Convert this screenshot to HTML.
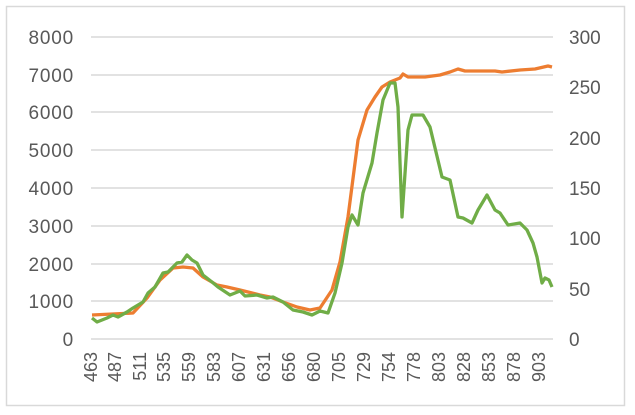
<!DOCTYPE html>
<html><head><style>
body{margin:0;background:#fff;}
svg{display:block;font-family:"Liberation Sans",sans-serif;}
</style></head><body>
<svg width="635" height="415" viewBox="0 0 635 415">
<rect x="6.5" y="6.5" width="618" height="399" fill="#fff" stroke="#d9d9d9" stroke-width="1.5"/>
<g stroke="#d9d9d9" stroke-width="1.5">
<line x1="91" x2="553" y1="37" y2="37"/><line x1="91" x2="553" y1="75" y2="75"/>
<line x1="91" x2="553" y1="112" y2="112"/><line x1="91" x2="553" y1="150" y2="150"/>
<line x1="91" x2="553" y1="188" y2="188"/><line x1="91" x2="553" y1="226" y2="226"/>
<line x1="91" x2="553" y1="264" y2="264"/><line x1="91" x2="553" y1="301" y2="301"/>
<line x1="91" x2="553" y1="339" y2="339"/>
</g>
<g fill="#595959" font-size="19" text-anchor="end" letter-spacing="0.8">
<text x="74" y="44">8000</text><text x="74" y="82">7000</text><text x="74" y="119">6000</text>
<text x="74" y="157">5000</text><text x="74" y="195">4000</text><text x="74" y="233">3000</text>
<text x="74" y="271">2000</text><text x="74" y="308">1000</text><text x="74" y="346">0</text>
</g>
<g fill="#595959" font-size="19" text-anchor="start">
<text x="569" y="44">300</text><text x="569" y="94">250</text><text x="569" y="145">200</text>
<text x="569" y="195">150</text><text x="569" y="245">100</text><text x="569" y="296">50</text>
<text x="569" y="346">0</text>
</g>
<g fill="#595959" font-size="18" text-anchor="end">
<text transform="translate(97,352) rotate(-90)">463</text>
<text transform="translate(121,352) rotate(-90)">487</text>
<text transform="translate(146,352) rotate(-90)">511</text>
<text transform="translate(170,352) rotate(-90)">535</text>
<text transform="translate(195,352) rotate(-90)">559</text>
<text transform="translate(220,352) rotate(-90)">583</text>
<text transform="translate(245,352) rotate(-90)">607</text>
<text transform="translate(270,352) rotate(-90)">631</text>
<text transform="translate(295,352) rotate(-90)">656</text>
<text transform="translate(320,352) rotate(-90)">680</text>
<text transform="translate(345,352) rotate(-90)">705</text>
<text transform="translate(370,352) rotate(-90)">729</text>
<text transform="translate(395,352) rotate(-90)">754</text>
<text transform="translate(420,352) rotate(-90)">778</text>
<text transform="translate(445,352) rotate(-90)">803</text>
<text transform="translate(470,352) rotate(-90)">828</text>
<text transform="translate(495,352) rotate(-90)">853</text>
<text transform="translate(520,352) rotate(-90)">878</text>
<text transform="translate(545,352) rotate(-90)">903</text>
</g>
<polyline fill="none" stroke="#ED7D31" stroke-width="3.3" stroke-linejoin="round" points="92,315 133,313 147,298 160,280 173,268 183,267 193,268 203,277 217,285 227,287 240,290 260,295 270,297 283,302 297,307 310,310 320,308 332,290 340,262 348,217 358,140 367,110 375,97 382,87 390,82 395,80 400,78 403,74 408,77 425,77 440,75 450,72 458,69 465,71 495,71 502,72 520,70 535,69 548,66 552,67"/>
<polyline fill="none" stroke="#70AD47" stroke-width="3.3" stroke-linejoin="round" points="92,318 97,322 107,318 113,315 118,317 127,312 133,308 143,302 148,293 155,287 163,273 168,272 177,263 182,262 187,255 192,260 197,263 203,275 212,282 218,287 230,295 240,291 245,296 257,295 267,298 273,297 283,302 293,310 303,312 312,315 320,311 328,313 335,293 342,263 348,227 352,215 358,225 363,193 372,163 377,133 383,100 390,83 395,83 398,107 402,217 408,130 412,115 423,115 430,127 442,177 450,180 458,217 463,218 472,223 478,210 487,195 495,210 500,213 508,225 520,223 527,230 533,243 537,257 542,283 545,278 549,280 552,287"/>
</svg>
</body></html>
